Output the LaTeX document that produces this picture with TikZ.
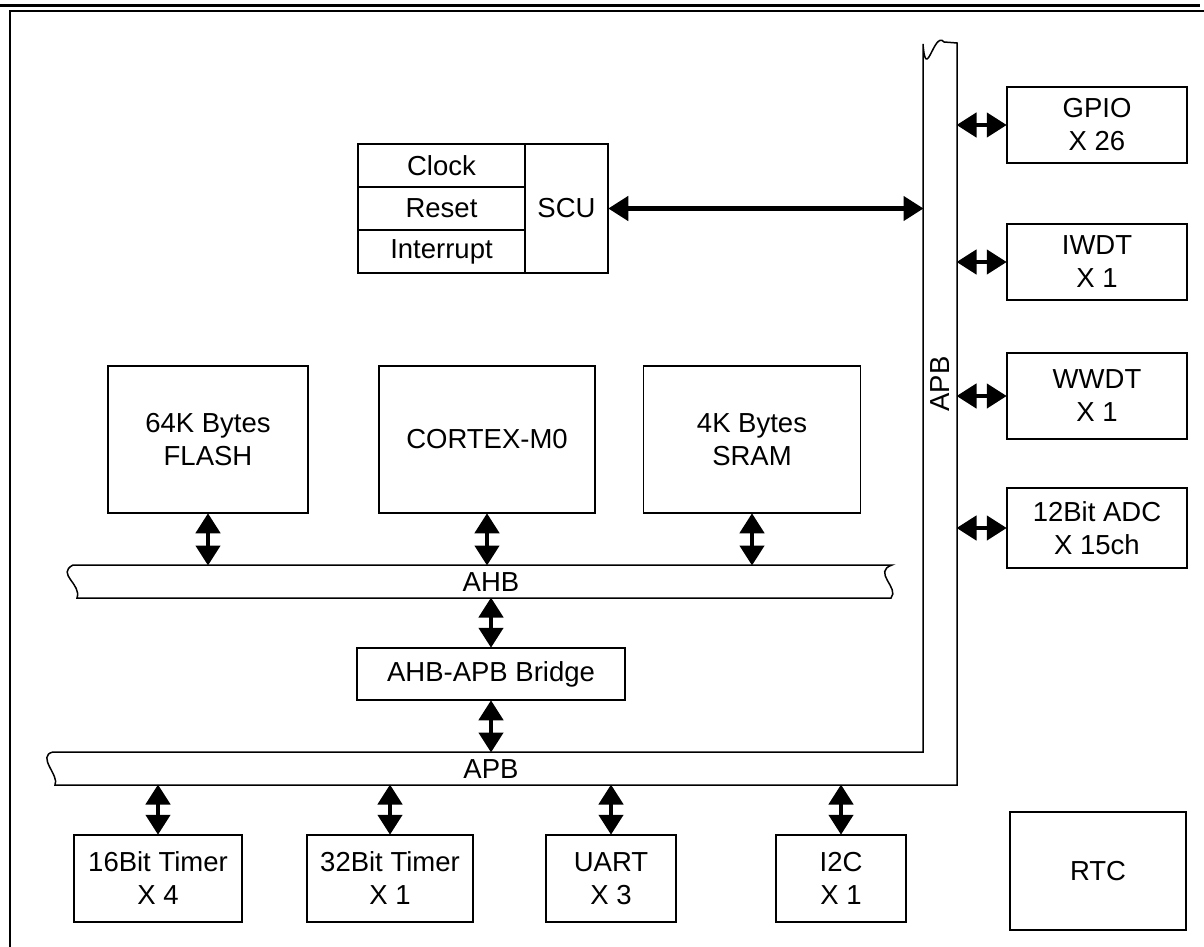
\documentclass[tikz,border=0pt]{standalone}
\usepackage{fontspec}
\setmainfont{Liberation Sans}
\usetikzlibrary{arrows.meta}
\begin{document}
\begin{tikzpicture}[x=1pt,y=-1pt,
  box/.style={draw,line width=1.5pt,inner sep=0pt,align=center,font=\fontsize{27.5}{33}\selectfont},
  lbl/.style={inner sep=0pt,font=\fontsize{27.5}{33}\selectfont},
  bus/.style={draw,line width=1.5pt,fill=white},
  dbl/.style={line width=4.5pt,{Triangle[width=24pt,length=20pt]}-{Triangle[width=24pt,length=20pt]},shorten <=-0.5pt,shorten >=-0.5pt}]
\useasboundingbox (0,0) rectangle (1204,947);
% frame
\draw[line width=3pt] (0,5.5) -- (1200,5.5);
\draw[line width=1.5pt] (10,947) -- (10,11) -- (1204,11);
% SCU group
\node[box,minimum width=167pt,minimum height=43pt] (clock) at (441.5,165.5) {Clock};
\node[box,minimum width=167pt,minimum height=43pt] (reset) at (441.5,208.5) {Reset};
\node[box,minimum width=167pt,minimum height=43pt] (intr) at (441.5,251.5) {Interrupt};
\node[box,minimum width=83pt,minimum height=129pt] (scu) at (566.5,208.5) {SCU};
% core blocks
\node[box,minimum width=200pt,minimum height=147pt] (flash) at (208,439.5) {64K Bytes\\FLASH};
\node[box,minimum width=216pt,minimum height=147pt] (cortex) at (487,439.5) {CORTEX-M0};
\node[box,minimum width=217pt,minimum height=147pt] (sram) at (752,439.5) {4K Bytes\\SRAM};
\node[box,minimum width=268pt,minimum height=52pt] (bridge) at (491,674) {AHB-APB Bridge};
% right peripherals
\node[box,minimum width=180pt,minimum height=76pt] (gpio) at (1097,125) {GPIO\\X 26};
\node[box,minimum width=180pt,minimum height=76pt] (iwdt) at (1097,262) {IWDT\\X 1};
\node[box,minimum width=180pt,minimum height=86pt] (wwdt) at (1097,396) {WWDT\\X 1};
\node[box,minimum width=180pt,minimum height=80pt] (adc) at (1097,528) {12Bit ADC\\X 15ch};
% bottom peripherals
\node[box,minimum width=168pt,minimum height=87pt] (t16) at (158,878.5) {16Bit Timer\\X 4};
\node[box,minimum width=166pt,minimum height=87pt] (t32) at (390,878.5) {32Bit Timer\\X 1};
\node[box,minimum width=130pt,minimum height=87pt] (uart) at (611,878.5) {UART\\X 3};
\node[box,minimum width=130pt,minimum height=87pt] (i2c) at (841,878.5) {I2C\\X 1};
\node[box,minimum width=176pt,minimum height=118pt] (rtc) at (1098,871) {RTC};
% AHB bus
\path[bus] (73,565) -- (892,565) .. controls (872,572) and (900,588) .. (891,598)
  -- (77,598) .. controls (82,584) and (56,574) .. (73,565) -- cycle;
\node[lbl] (ahb) at (491,582) {AHB};
\coordinate (ahbT) at (0,565);
\coordinate (ahbB) at (0,598);
% APB bus
\path[bus] (923,44) -- (923,752) -- (53,752) .. controls (36,756) and (60,776) .. (55,785)
  -- (957,785) -- (957,43) -- (944,42) .. controls (934,30) and (926,84) .. (923,44) -- cycle;
\node[lbl] (apbh) at (491,769) {APB};
\node[lbl,rotate=90] (apbv) at (940,384) {APB};
\coordinate (apbL) at (923,0);
\coordinate (apbR) at (957,0);
\coordinate (apbT) at (0,752);
\coordinate (apbB) at (0,785);
% connectors
\draw[dbl] (scu.east) -- (scu.east -| apbL);
\draw[dbl] (flash.south) -- (flash.south |- ahbT);
\draw[dbl] (cortex.south) -- (cortex.south |- ahbT);
\draw[dbl] (sram.south) -- (sram.south |- ahbT);
\draw[dbl] (bridge.north |- ahbB) -- (bridge.north);
\draw[dbl] (bridge.south) -- (bridge.south |- apbT);
\draw[dbl] (gpio.west -| apbR) -- (gpio.west);
\draw[dbl] (iwdt.west -| apbR) -- (iwdt.west);
\draw[dbl] (wwdt.west -| apbR) -- (wwdt.west);
\draw[dbl] (adc.west -| apbR) -- (adc.west);
\draw[dbl] (t16.north |- apbB) -- (t16.north);
\draw[dbl] (t32.north |- apbB) -- (t32.north);
\draw[dbl] (uart.north |- apbB) -- (uart.north);
\draw[dbl] (i2c.north |- apbB) -- (i2c.north);
\end{tikzpicture}
\end{document}
